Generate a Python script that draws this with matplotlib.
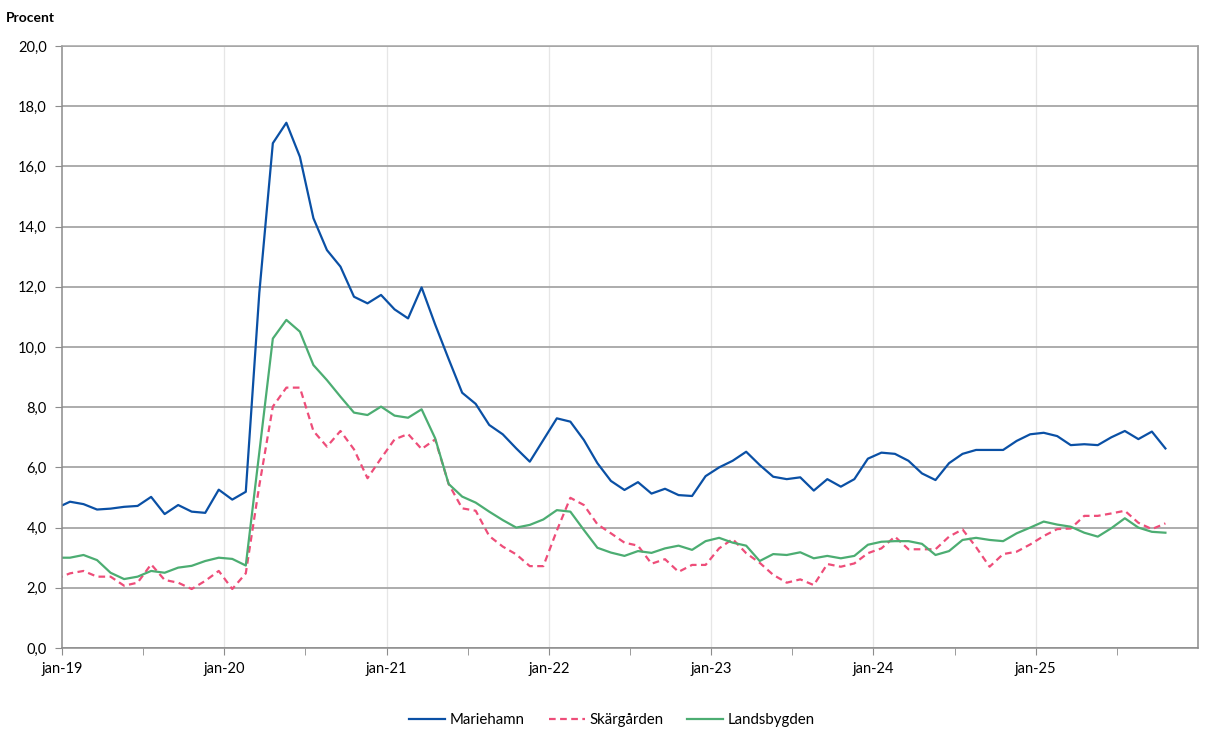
import matplotlib
matplotlib.use("Agg")
import matplotlib.pyplot as plt
from matplotlib.ticker import FuncFormatter, MultipleLocator
import numpy as np

# Monthly values, jan-19 .. nov-25 (percent)
mariehamn = [4.65, 4.86, 4.78, 4.60, 4.63, 4.69, 4.72, 5.02, 4.45, 4.75, 4.53, 4.49,
             5.26, 4.93, 5.19, 11.8, 16.77, 17.45, 16.32, 14.28, 13.22, 12.67, 11.67, 11.45,
             11.73, 11.25, 10.95, 11.98, 10.75, 9.6, 8.48, 8.11, 7.41, 7.10, 6.63, 6.19,
             6.91, 7.63, 7.52, 6.91, 6.14, 5.55, 5.25, 5.51, 5.13, 5.29, 5.08, 5.05,
             5.71, 6.00, 6.22, 6.52, 6.08, 5.69, 5.61, 5.67, 5.23, 5.61, 5.36, 5.61,
             6.29, 6.49, 6.45, 6.22, 5.80, 5.58, 6.14, 6.45, 6.58, 6.58, 6.58, 6.88,
             7.10, 7.15, 7.04, 6.74, 6.77, 6.74, 7.00, 7.21, 6.94, 7.19, 6.63]
skargarden = [2.30, 2.48, 2.56, 2.37, 2.37, 2.07, 2.17, 2.78, 2.26, 2.17, 1.96, 2.23,
              2.56, 1.96, 2.48, 5.4, 8.02, 8.65, 8.65, 7.21, 6.69, 7.21, 6.60, 5.64,
              6.30, 6.93, 7.11, 6.61, 6.93, 5.45, 4.64, 4.56, 3.72, 3.37, 3.11, 2.72,
              2.72, 3.9, 4.99, 4.75, 4.11, 3.81, 3.50, 3.40, 2.80, 2.95, 2.53, 2.76,
              2.76, 3.31, 3.62, 3.15, 2.83, 2.43, 2.17, 2.28, 2.09, 2.79, 2.70, 2.81,
              3.15, 3.31, 3.70, 3.28, 3.28, 3.28, 3.70, 3.94, 3.35, 2.70, 3.12, 3.20,
              3.44, 3.72, 3.95, 3.97, 4.39, 4.39, 4.47, 4.56, 4.16, 3.95, 4.14]
landsbygden = [3.00, 3.00, 3.09, 2.92, 2.50, 2.29, 2.37, 2.56, 2.50, 2.67, 2.73, 2.89,
               3.00, 2.96, 2.74, 6.5, 10.28, 10.90, 10.51, 9.40, 8.90, 8.35, 7.82, 7.74,
               8.02, 7.72, 7.65, 7.93, 6.97, 5.45, 5.03, 4.83, 4.53, 4.25, 4.00, 4.09,
               4.27, 4.58, 4.53, 3.92, 3.33, 3.17, 3.06, 3.22, 3.16, 3.31, 3.40, 3.26,
               3.55, 3.66, 3.50, 3.40, 2.89, 3.12, 3.09, 3.18, 2.98, 3.06, 2.98, 3.06,
               3.43, 3.53, 3.55, 3.55, 3.46, 3.09, 3.22, 3.59, 3.66, 3.59, 3.55, 3.81,
               4.00, 4.20, 4.10, 4.03, 3.83, 3.70, 3.98, 4.31, 4.00, 3.86, 3.83]
year_labels = ["jan-19", "jan-20", "jan-21", "jan-22", "jan-23", "jan-24", "jan-25"]

plt.rcParams['font.family'] = ['Lato', 'DejaVu Sans']

fig = plt.figure(figsize=(12.19, 7.44), dpi=100)
ax = fig.add_axes([62 / 1219, 1 - 648 / 744, (1198 - 62) / 1219, (648 - 46) / 744])

# points sit a bit before the month tick, like in the source chart
x = np.arange(len(mariehamn)) - 0.41

ax.plot(x, mariehamn, color="#0a50a5", lw=1.6, label="Mariehamn")
ax.plot(x, skargarden, color="#ee4d79", lw=1.6, dashes=(3, 2), label="Skärgården")
ax.plot(x, landsbygden, color="#4cad72", lw=1.6, label="Landsbygden")

ax.set_xlim(0, 84)
ax.set_ylim(0, 20)

ax.yaxis.set_major_locator(MultipleLocator(2))
ax.yaxis.set_major_formatter(FuncFormatter(lambda v, p: f"{v:.1f}".replace(".", ",")))
ax.set_xticks(np.arange(0, 73, 12))
ax.set_xticklabels(year_labels)
ax.set_xticks(np.arange(6, 84, 6), minor=True)

ax.grid(axis="y", color="#a6a6a6", lw=1.3)
for xv in np.arange(12, 73, 12):
    ax.axvline(xv, color="#e6e6e6", lw=0.9, zorder=0)
ax.set_axisbelow(True)

for s in ax.spines.values():
    s.set_color("#8c8c8c")
    s.set_linewidth(1.1)
ax.spines["top"].set_color("#a6a6a6")

ax.tick_params(axis="y", length=5, color="#8c8c8c", labelsize=10.5, pad=6)
ax.tick_params(axis="x", which="both", length=5, color="#8c8c8c", labelsize=10.5, pad=5)

fig.text(6 / 1219, 1 - 18 / 744, "Procent", fontsize=10, fontweight="bold", va="center")

fig.legend(loc="center", bbox_to_anchor=(0.502, 1 - 720 / 744), ncol=3, frameon=False,
           fontsize=10.8, handlelength=2.4, columnspacing=1.6, handletextpad=0.3)

fig.savefig("out.png", dpi=100)
